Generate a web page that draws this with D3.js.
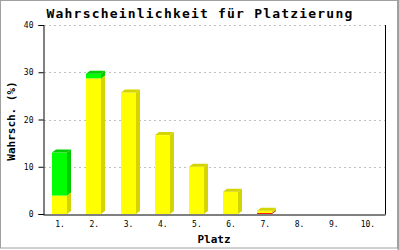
<!DOCTYPE html>
<html>
<head>
<meta charset="utf-8">
<script src="https://cdn.jsdelivr.net/npm/d3@7"></script>
<style>
  body { margin: 0; background: #fff; }
  svg { display: block; }
  text { font-family: "DejaVu Sans Mono", monospace; }
</style>
</head>
<body>
<div id="vis"></div>
<script>
var places = ["1.", "2.", "3.", "4.", "5.", "6.", "7.", "8.", "9.", "10."];
var red_vals = [0, 0, 0, 0, 0, 0, 0.2, 0, 0, 0];
var yellow_vals = [3.9, 28.7, 25.7, 16.7, 10.0, 4.7, 0.5, 0, 0, 0];
var green_vals = [9.1, 1.0, 0, 0, 0, 0, 0, 0, 0, 0];
var y_ticks = [0, 10, 20, 30, 40];

var series = [
  { key: "red", vals: red_vals, front: "#ff0000", side: "#cc0000" },
  { key: "yellow", vals: yellow_vals, front: "#ffff00", side: "#d4d400" },
  { key: "green", vals: green_vals, front: "#00ff00", side: "#00cc00" }
];

var width = 400, height = 250;
var dx = 4, dy = 3, bar_w = 15;

var scales = {
  place: d3.scaleBand().domain(places).range([43, 385]).padding(0),
  pct: d3.scaleLinear().domain([0, 40]).range([214, 25])
};

var svg = d3.select("#vis")
  .append("svg")
  .attr("width", width)
  .attr("height", height);

// frame
svg.append("rect")
  .attr("x", 0.5).attr("y", 0.5)
  .attr("width", 397).attr("height", 247.5)
  .attr("fill", "none")
  .attr("stroke", "#a0a0a0");
svg.append("line")
  .attr("x1", 398.5).attr("x2", 398.5).attr("y1", 0).attr("y2", 250)
  .attr("stroke", "#a0a0a0").attr("stroke-width", 2);

// grid
svg.selectAll(".grid")
  .data(y_ticks.filter(function(d) { return d > 0; }))
  .enter()
  .append("line")
  .attr("class", "grid")
  .attr("x1", 44)
  .attr("x2", 385)
  .attr("y1", function(d) { return Math.round(scales.pct(d)) + 0.5; })
  .attr("y2", function(d) { return Math.round(scales.pct(d)) + 0.5; })
  .attr("stroke", "#c0c0c0")
  .attr("stroke-dasharray", "2,3");

// stacked 3d bars
var stacked = places.map(function(p, i) {
  var base = 0, segs = [];
  series.forEach(function(s) {
    var v = s.vals[i];
    if (v > 0) segs.push({ place: p, y0: base, y1: base + v, front: s.front, side: s.side });
    base += v;
  });
  return segs;
});

var bars = svg.append("g").attr("class", "bars");
stacked.forEach(function(segs) {
  segs.forEach(function(d, j) {
    var x0 = Math.round(scales.place(d.place) + scales.place.bandwidth() / 2 - 8);
    var yt = scales.pct(d.y1), yb = scales.pct(d.y0);
    bars.append("rect")
      .attr("x", x0).attr("y", yt)
      .attr("width", bar_w).attr("height", yb - yt)
      .attr("fill", d.front);
    bars.append("path")
      .attr("d", "M" + (x0 + bar_w) + "," + yb + "L" + (x0 + bar_w + dx) + "," + (yb - dy) +
        "L" + (x0 + bar_w + dx) + "," + (yt - dy) + "L" + (x0 + bar_w) + "," + yt + "Z")
      .attr("fill", d.side);
    if (j === segs.length - 1) {
      bars.append("path")
        .attr("d", "M" + x0 + "," + yt + "L" + (x0 + dx) + "," + (yt - dy) +
          "L" + (x0 + bar_w + dx) + "," + (yt - dy) + "L" + (x0 + bar_w) + "," + yt + "Z")
        .attr("fill", d.side);
    }
  });
});

// axes
var y_axis = d3.axisLeft(scales.pct)
  .tickValues(y_ticks)
  .tickSize(5)
  .tickPadding(5)
  .tickFormat(d3.format("d"));
svg.append("g")
  .attr("class", "y_axis")
  .attr("transform", "translate(43.5,0)")
  .call(y_axis);

var x_axis = d3.axisBottom(scales.place)
  .tickSize(0)
  .tickPadding(7);
svg.append("g")
  .attr("class", "x_axis")
  .attr("transform", "translate(0,214.5)")
  .call(x_axis);

svg.append("line")
  .attr("x1", 385.5).attr("x2", 385.5)
  .attr("y1", 25).attr("y2", 214.5)
  .attr("stroke", "#000");

svg.selectAll(".y_axis path, .x_axis path").attr("stroke", "#000");
svg.selectAll(".y_axis text, .x_axis text")
  .attr("font-family", "'DejaVu Sans Mono', monospace")
  .attr("font-size", 8)
  .attr("fill", "#000");

// labels
svg.append("text")
  .attr("x", 200).attr("y", 18)
  .attr("text-anchor", "middle")
  .attr("font-size", 13)
  .attr("font-weight", "bold")
  .attr("letter-spacing", 1.2)
  .text("Wahrscheinlichkeit für Platzierung");

svg.append("text")
  .attr("x", 214).attr("y", 243)
  .attr("text-anchor", "middle")
  .attr("font-size", 11)
  .attr("font-weight", "bold")
  .text("Platz");

svg.append("text")
  .attr("transform", "translate(15,121) rotate(-90)")
  .attr("text-anchor", "middle")
  .attr("font-size", 11)
  .attr("font-weight", "bold")
  .text("Wahrsch. (%)");
</script>
</body>
</html>
